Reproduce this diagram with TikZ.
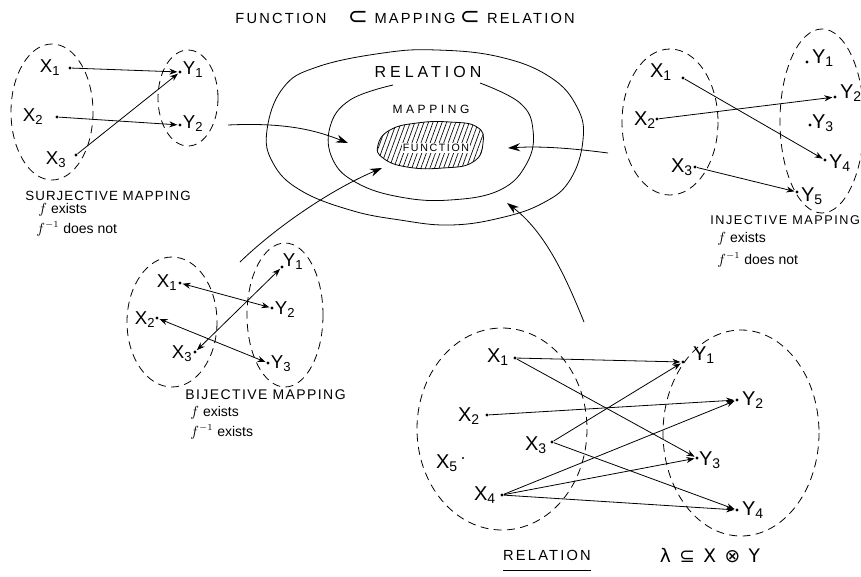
\documentclass[tikz,border=0pt]{standalone}
\usepackage{fontspec}
\setmainfont{Liberation Sans}
\newfontfamily\symfont{DejaVu Sans}
\usetikzlibrary{arrows.meta,patterns.meta}
\newcommand\mytrack[1]{\addfontfeatures{LetterSpace=#1}}
\newcommand\fsz[1]{\fontsize{#1}{#1}\selectfont}
\begin{document}
\begin{tikzpicture}[x=0.75pt,y=-0.75pt,line width=0.6pt,
  setline/.style={line width=0.6pt,dash pattern=on 6pt off 4pt},
  pt/.style={circle,fill,inner sep=0pt,minimum size=2.4pt},
  lbl/.style={font=\fsz{14},inner sep=0pt},
  lblb/.style={font=\fsz{15},inner sep=0pt},
  arr/.style={-{Stealth[length=6pt,width=4.5pt]},shorten >=0.5pt},
  barr/.style={{Stealth[length=6pt,width=4.5pt]}-{Stealth[length=6pt,width=4.5pt]},shorten >=0.5pt,shorten <=0.5pt},
  bigarr/.style={-{Stealth[length=9pt,width=6pt]}},
  captxt/.style={font=\fsz{10}\mytrack{8},anchor=west,inner sep=0pt},
  subtxt/.style={font=\fsz{10.5},anchor=west,inner sep=0pt},
  titletxt/.style={font=\fsz{11}\mytrack{15},inner sep=0pt},
  titlesym/.style={font=\fsz{18}\symfont,inner sep=0pt},
]
\useasboundingbox (0,0) rectangle (861,576);

% ---------- title ----------
\node[titletxt] (t-func) at (281,18) {FUNCTION};
\node[titlesym] (t-sub1) at (358,18) {⊂};
\node[titletxt] (t-map) at (415,18) {MAPPING};
\node[titlesym] (t-sub2) at (470,18) {⊂};
\node[titletxt] (t-rel) at (531,18) {RELATION};

% ---------- central nested sets ----------
\draw plot[smooth cycle,tension=0.7] coordinates {(267,130) (283,88) (317,67) (383,53) (437,50) (500,57) (550,77) (577,107) (583,140) (570,180) (543,203) (500,218) (450,225) (400,220) (350,210) (300,190) (273,163)};
\draw plot[smooth,tension=0.7] coordinates {(480,83) (520,103) (533,130) (527,163) (500,190) (450,200) (400,197) (357,183) (333,160) (330,127) (350,100) (393,85)};
\draw[pattern={Lines[angle=70,distance=3.2pt,line width=0.5pt]}] plot[smooth cycle,tension=0.8] coordinates {(378,145) (390,130) (417,123) (450,122) (477,127) (483,143) (473,162) (443,168) (407,167) (383,158)};
\node[font=\fsz{12}\mytrack{25},inner sep=0pt] (c-rel) at (428,72) {RELATION};
\node[font=\fsz{9}\mytrack{30},inner sep=0pt] (c-map) at (431,109) {MAPPING};
\node[font=\fsz{8}\mytrack{15},inner sep=0.8pt,fill=white] (c-func) at (436,148) {FUNCTION};

% ---------- surjective ----------
\draw[setline] (52,112) ellipse [x radius=41, y radius=68];
\draw[setline] (188,98) ellipse [x radius=30, y radius=48];
\node[pt] (s-x1) at (70,68) {};
\node[pt] (s-x2) at (57,117) {};
\node[pt] (s-x3) at (76,155) {};
\node[pt] (s-y1) at (180,72) {};
\node[pt] (s-y2) at (180,125) {};
\node[lbl] (s-lx1) at (50,68) {X\textsubscript{1}};
\node[lbl] (s-lx2) at (33,117) {X\textsubscript{2}};
\node[lbl] (s-lx3) at (56,160) {X\textsubscript{3}};
\node[lbl] (s-ly1) at (193,70) {Y\textsubscript{1}};
\node[lbl] (s-ly2) at (193,124) {Y\textsubscript{2}};
\draw[arr] (s-x1) -- (s-y1);
\draw[arr] (s-x2) -- (s-y2);
\draw[arr] (s-x3) -- (s-y1);
\node[captxt] (s-cap) at (25,196) {SURJECTIVE MAPPING};
\node[subtxt] (s-f) at (38,210) {$f$ exists};
\node[subtxt] (s-finv) at (36,229) {$f^{-1}$ does not};

% ---------- injective ----------
\draw[setline] (670,122) ellipse [x radius=48, y radius=73];
\draw[setline] (822,121) ellipse [x radius=42, y radius=92];
\node[pt] (i-x1) at (683,78) {};
\node[pt] (i-x2) at (657,119) {};
\node[pt] (i-x3) at (695,167) {};
\node[pt] (i-y1) at (807,62) {};
\node[pt] (i-y2) at (835,97) {};
\node[pt] (i-y3) at (810,125) {};
\node[pt] (i-y4) at (825,160) {};
\node[pt] (i-y5) at (797,192) {};
\node[lblb] (i-lx1) at (661,72) {X\textsubscript{1}};
\node[lblb] (i-lx2) at (645,120) {X\textsubscript{2}};
\node[lblb] (i-lx3) at (682,167) {X\textsubscript{3}};
\node[lblb] (i-ly1) at (823,58) {Y\textsubscript{1}};
\node[lblb] (i-ly2) at (851,93) {Y\textsubscript{2}};
\node[lblb] (i-ly3) at (823,123) {Y\textsubscript{3}};
\node[lblb] (i-ly4) at (840,163) {Y\textsubscript{4}};
\node[lblb] (i-ly5) at (812,196) {Y\textsubscript{5}};
\draw[arr] (i-x1) -- (i-y4);
\draw[arr] (i-x2) -- (i-y2);
\draw[arr] (i-x3) -- (i-y5);
\node[captxt,font=\fsz{9.5}\mytrack{12}] (i-cap) at (710,220) {INJECTIVE MAPPING};
\node[subtxt] (i-f) at (717,239) {$f$ exists};
\node[subtxt] (i-finv) at (717,260) {$f^{-1}$ does not};

% ---------- bijective ----------
\draw[setline] (172,322) ellipse [x radius=45, y radius=65];
\draw[setline] (285,315) ellipse [x radius=38, y radius=72];
\node[pt] (b-x1) at (180,283) {};
\node[pt] (b-x2) at (157,318) {};
\node[pt] (b-x3) at (195,352) {};
\node[pt] (b-y1) at (282,267) {};
\node[pt] (b-y2) at (272,308) {};
\node[pt] (b-y3) at (268,363) {};
\node[lbl] (b-lx1) at (167,283) {X\textsubscript{1}};
\node[lbl] (b-lx2) at (145,320) {X\textsubscript{2}};
\node[lbl] (b-lx3) at (182,354) {X\textsubscript{3}};
\node[lbl] (b-ly1) at (293,262) {Y\textsubscript{1}};
\node[lbl] (b-ly2) at (285,310) {Y\textsubscript{2}};
\node[lbl] (b-ly3) at (281,364) {Y\textsubscript{3}};
\draw[barr] (b-x1) -- (b-y2);
\draw[barr] (b-x2) -- (b-y3);
\draw[barr] (b-x3) -- (b-y1);
\node[captxt,font=\fsz{10.5}\mytrack{10}] (b-cap) at (185,395) {BIJECTIVE MAPPING};
\node[subtxt] (b-f) at (190,413) {$f$ exists};
\node[subtxt] (b-finv) at (190,432) {$f^{-1}$ exists};

% ---------- relation ----------
\draw[setline] (502,429) ellipse [x radius=85, y radius=101];
\draw[setline] (741,433) ellipse [x radius=78, y radius=103];
\node[pt] (r-x1) at (515,358) {};
\node[pt] (r-x2) at (487,415) {};
\node[pt] (r-x3) at (552,442) {};
\node[pt] (r-x4) at (502,495) {};
\node[pt,minimum size=1.6pt] (r-x5) at (463,458) {};
\node[pt] (r-y1) at (683,362) {};
\node[pt] (r-y2) at (737,400) {};
\node[pt] (r-y3) at (697,458) {};
\node[pt] (r-y4) at (737,510) {};
\node[lblb] (r-lx1) at (498,357) {X\textsubscript{1}};
\node[lblb] (r-lx2) at (469,416) {X\textsubscript{2}};
\node[lblb] (r-lx3) at (536,445) {X\textsubscript{3}};
\node[lblb] (r-lx5) at (447,463) {X\textsubscript{5}};
\node[lblb] (r-lx4) at (485,495) {X\textsubscript{4}};
\node[lblb] (r-ly1) at (704,355) {Y\textsubscript{1}};
\node[lblb] (r-ly2) at (753,400) {Y\textsubscript{2}};
\node[lblb] (r-ly3) at (710,460) {Y\textsubscript{3}};
\node[lblb] (r-ly4) at (753,510) {Y\textsubscript{4}};
\draw[arr] (r-x1) -- (r-y1);
\draw[arr] (r-x1) -- (r-y3);
\draw[arr] (r-x2) -- (r-y2);
\draw[arr] (r-x3) -- (r-y1);
\draw[arr] (r-x3) -- (r-y4);
\draw[arr] (r-x4) -- (r-y2);
\draw[arr] (r-x4) -- (r-y3);
\draw[arr] (r-x4) -- (r-y4);
\node[font=\fsz{11}\mytrack{15},inner sep=0pt] (r-cap) at (547,555) {RELATION};
\draw ([yshift=-7pt]r-cap.south west) -- ([yshift=-7pt]r-cap.south east);
\node[font=\fsz{14}\symfont,inner sep=0pt] (r-form) at (710,556) {λ\hspace{0.45em}⊆\hspace{0.45em}X\hspace{0.45em}⊗\hspace{0.45em}Y};

% ---------- connectors into the nested sets ----------
\coordinate (sj-out) at (228,125);
\coordinate (sj-in) at (348,143);
\draw[bigarr] (sj-out) .. controls (290,122) and (320,132) .. (sj-in);
\coordinate (ij-out) at (608,153);
\coordinate (ij-in) at (508,148);
\draw[bigarr] (ij-out) .. controls (570,148) and (540,146) .. (ij-in);
\coordinate (bj-out) at (240,262);
\coordinate (bj-in) at (382,168);
\draw[bigarr] (bj-out) .. controls (275,228) and (330,190) .. (bj-in);
\coordinate (rl-out) at (584,322);
\coordinate (rl-in) at (507,203);
\draw[bigarr] (rl-out) .. controls (565,275) and (545,232) .. (rl-in);
\end{tikzpicture}
\end{document}
